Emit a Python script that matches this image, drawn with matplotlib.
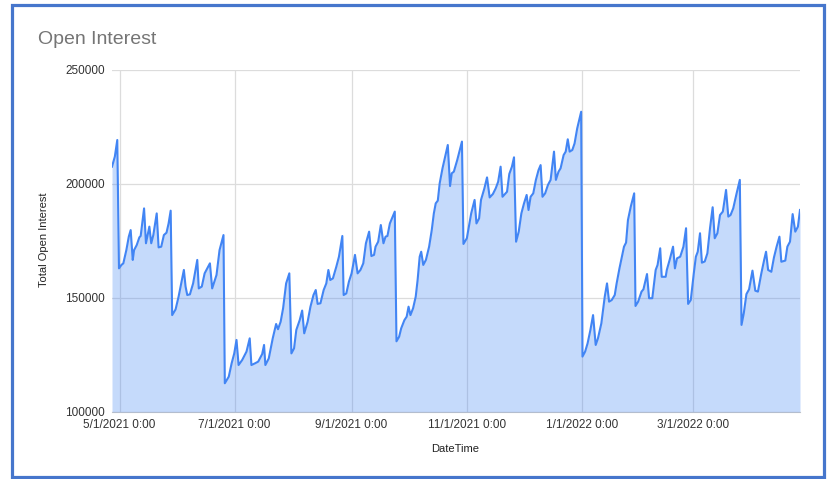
import matplotlib

matplotlib.use("Agg")
import matplotlib.dates as mdates
import matplotlib.pyplot as plt
import pandas as pd
from matplotlib.patches import Rectangle
from matplotlib.ticker import FuncFormatter

# line vertices: days after 5/1/2021 and total open interest
START = "2021-05-01"
day_offset = [
    -4.0, -2.5, -1.2, -0.3, 1.0, 2.0, 3.6, 4.9, 5.9, 7.0, 7.7, 9.1, 10.5, 11.2,
    13.0, 14.0, 14.9, 15.8, 16.8, 17.9, 19.7, 20.7, 22.1, 23.5, 24.9, 26.0, 27.1,
    27.9, 29.7, 31.3, 32.7, 34.1, 35.0, 35.9, 37.3, 39.0, 41.2, 42.0, 43.6, 45.1,
    47.9, 49.1, 51.4, 53.0, 55.1, 55.8, 57.9, 59.4, 60.8, 62.0, 63.1, 65.0, 67.3,
    69.0, 69.9, 71.7, 73.5, 75.6, 76.6, 77.3, 79.1, 81.2, 83.0, 84.0, 85.4, 86.7,
    88.3, 90.0, 91.1, 92.5, 93.7, 95.5, 96.8, 97.9, 99.7, 101.2, 102.8, 104.0,
    105.0, 106.5, 108.2, 109.6, 110.7, 111.7, 113.1, 114.9, 116.3, 118.1, 118.8,
    120.2, 121.6, 123.0, 124.8, 126.2, 127.7, 129.2, 130.6, 132.3, 133.5, 134.9,
    135.7, 137.1, 138.5, 139.9, 141.0, 142.0, 143.3, 145.9, 146.8, 148.2, 149.3,
    151.0, 152.2, 153.2, 154.2, 155.6, 157.0, 158.0, 159.1, 159.9, 161.0, 162.4,
    164.1, 165.5, 166.6, 167.6, 168.7, 169.7, 171.2, 172.6, 174.0, 175.2, 176.1,
    177.2, 179.0, 181.5, 182.3, 184.1, 185.3, 186.4, 188.2, 189.2, 190.6, 191.6,
    193.4, 194.8, 196.2, 197.9, 199.4, 200.7, 202.0, 203.0, 205.4, 206.6, 208.0,
    209.1, 210.2, 211.6, 213.0, 214.4, 215.8, 216.8, 217.9, 219.3, 220.7, 222.1,
    223.2, 224.2, 225.6, 227.1, 228.5, 230.3, 231.3, 232.7, 233.8, 235.4, 236.5,
    237.6, 238.6, 240.0, 241.2, 242.6, 244.7, 245.4, 246.8, 248.1, 249.6, 251.0,
    252.4, 253.6, 255.4, 257.2, 258.4, 259.5, 260.9, 262.5, 263.5, 265.0, 266.3,
    267.4, 268.5, 269.5, 271.0, 272.8, 273.5, 274.9, 276.7, 277.7, 279.6, 280.7,
    282.4, 284.2, 285.2, 286.6, 287.4, 289.5, 290.1, 291.6, 293.4, 294.4, 295.5,
    297.2, 298.9, 300.3, 301.4, 302.8, 304.4, 305.5, 306.5, 307.7, 308.7, 310.2,
    311.6, 313.0, 314.4, 315.5, 316.9, 318.3, 319.8, 321.5, 322.7, 323.9, 325.3,
    327.1, 328.8, 329.7, 330.9, 332.3, 333.7, 335.5, 337.0, 338.4, 340.2, 341.7,
    342.7, 343.8, 345.5, 346.9, 348.3, 349.8, 350.8, 352.9, 354.0, 355.4, 356.8,
    358.2, 359.6, 360.7,
]
open_interest = [
    207600, 212000, 219300, 163000, 164500, 165200, 171000, 176900, 179800, 166700,
    171000, 173200, 176600, 177200, 189300, 174000, 177600, 181300, 174000, 177600,
    187100, 172200, 172500, 177600, 178650, 182700, 188300, 142500, 145000, 150600,
    156400, 162300, 155000, 151300, 151600, 156400, 166700, 154200, 155000, 160800,
    165200, 154200, 160100, 171000, 177600, 112600, 115500, 121300, 125700, 131600,
    120600, 122800, 126500, 132300, 120600, 121300, 122100, 125400, 129400, 120600,
    123500, 132300, 138600, 136300, 139600, 145500, 156400, 160800, 125700, 127900,
    136000, 140300, 144500, 134500, 139600, 146200, 151300, 153500, 147400, 147700,
    153500, 156400, 162300, 157900, 158600, 163700, 168100, 177200, 151300, 152000,
    157200, 160800, 168900, 160800, 162300, 165200, 174000, 179100, 168400, 168900,
    172500, 174700, 182000, 174000, 176900, 177200, 182700, 187900, 131000, 133000,
    136700, 140300, 141800, 146200, 142500, 145500, 150600, 157900, 168100, 170300,
    164500, 166700, 172500, 179800, 187100, 191500, 192700, 200300, 206900, 212000,
    217100, 199100, 204700, 205400, 210500, 218600, 173700, 176200, 182000, 187100,
    193000, 182700, 184900, 193000, 198100, 202900, 194100, 195600, 198100, 201000,
    207600, 194400, 196600, 204400, 207600, 211700, 174700, 179100, 187100, 191500,
    195200, 188600, 194400, 195900, 201800, 206100, 208300, 194400, 195900, 199600,
    201800, 214200, 201800, 205400, 206900, 212700, 214200, 219600, 214200, 214900,
    217800, 224400, 231700, 124300, 126500, 130100, 136000, 142500, 129400, 132300,
    138900, 150600, 156400, 148400, 149100, 151300, 156400, 163000, 168100, 172500,
    174300, 184200, 190100, 195900, 146500, 148400, 152800, 153800, 160500, 149900,
    149900, 162300, 164500, 171800, 159300, 159300, 162300, 166700, 172500, 163000,
    167400, 168100, 172500, 180600, 147400, 149100, 160800, 168100, 170300, 178400,
    165500, 166000, 169600, 180600, 189800, 176200, 178400, 186400, 187900, 197400,
    185700, 186400, 189300, 195900, 201800, 138200, 143300, 151700, 153800, 162000,
    153200, 152800, 160800, 166700, 170300, 162300, 161500, 167800, 172500, 176900,
    165900, 166400, 172500, 174700, 186800, 179100, 181300, 188600,
]

tick_dates = ["2021-05-01", "2021-07-01", "2021-09-01", "2021-11-01", "2022-01-01", "2022-03-01"]
y_ticks = [100000, 150000, 200000, 250000]

plt.rcParams["font.family"] = ["Liberation Sans", "DejaVu Sans"]

dates = pd.Timestamp(START) + pd.to_timedelta(day_offset, unit="D")

W, H = 827, 479
fig = plt.figure(figsize=(W / 100, H / 100), dpi=100)
ax = fig.add_axes([112 / W, (H - 412) / H, 688 / W, 342 / H])

ax.fill_between(dates, open_interest, y_ticks[0], color="#4285f4", alpha=0.3, linewidth=0, zorder=2)
ax.plot(dates, open_interest, color="#4285f4", linewidth=1.5, zorder=3)

ax.set_xlim(dates[0], dates[-1])
ax.set_ylim(y_ticks[0], y_ticks[-1])
ax.set_yticks(y_ticks)
ax.set_xticks(pd.to_datetime(tick_dates))


def _fmt_date(x, pos):
    d = mdates.num2date(x)
    return f"{d.month}/{d.day}/{d.year} 0:00"


ax.xaxis.set_major_formatter(FuncFormatter(_fmt_date))
ax.tick_params(length=0, labelsize=8.5, colors="#333333", pad=5)
ax.grid(True, color="#dcdcdc", linewidth=0.9, zorder=0)
ax.set_axisbelow(True)
for name, spine in ax.spines.items():
    spine.set_visible(name == "bottom")
ax.spines["bottom"].set_color("#c8c8c8")
ax.spines["bottom"].set_zorder(1)

fig.text(38 / W, 1 - 40 / H, "Open Interest", fontsize=14, color="#757575", ha="left", va="center")
fig.text(455 / W, 1 - 449 / H, "DateTime", fontsize=8, color="#222222", ha="center", va="center")
fig.text(44 / W, 1 - 240 / H, "Total Open Interest", fontsize=8, color="#222222",
         ha="center", va="center", rotation=90)

# blue screenshot frame
fig.patches.append(Rectangle((11.5 / W, 1 - 476.5 / H), 812 / W, 472 / H,
                             transform=fig.transFigure, fill=False,
                             edgecolor="#4676cc", linewidth=2.3))

fig.savefig("out.png", dpi=100)
plt.close(fig)
